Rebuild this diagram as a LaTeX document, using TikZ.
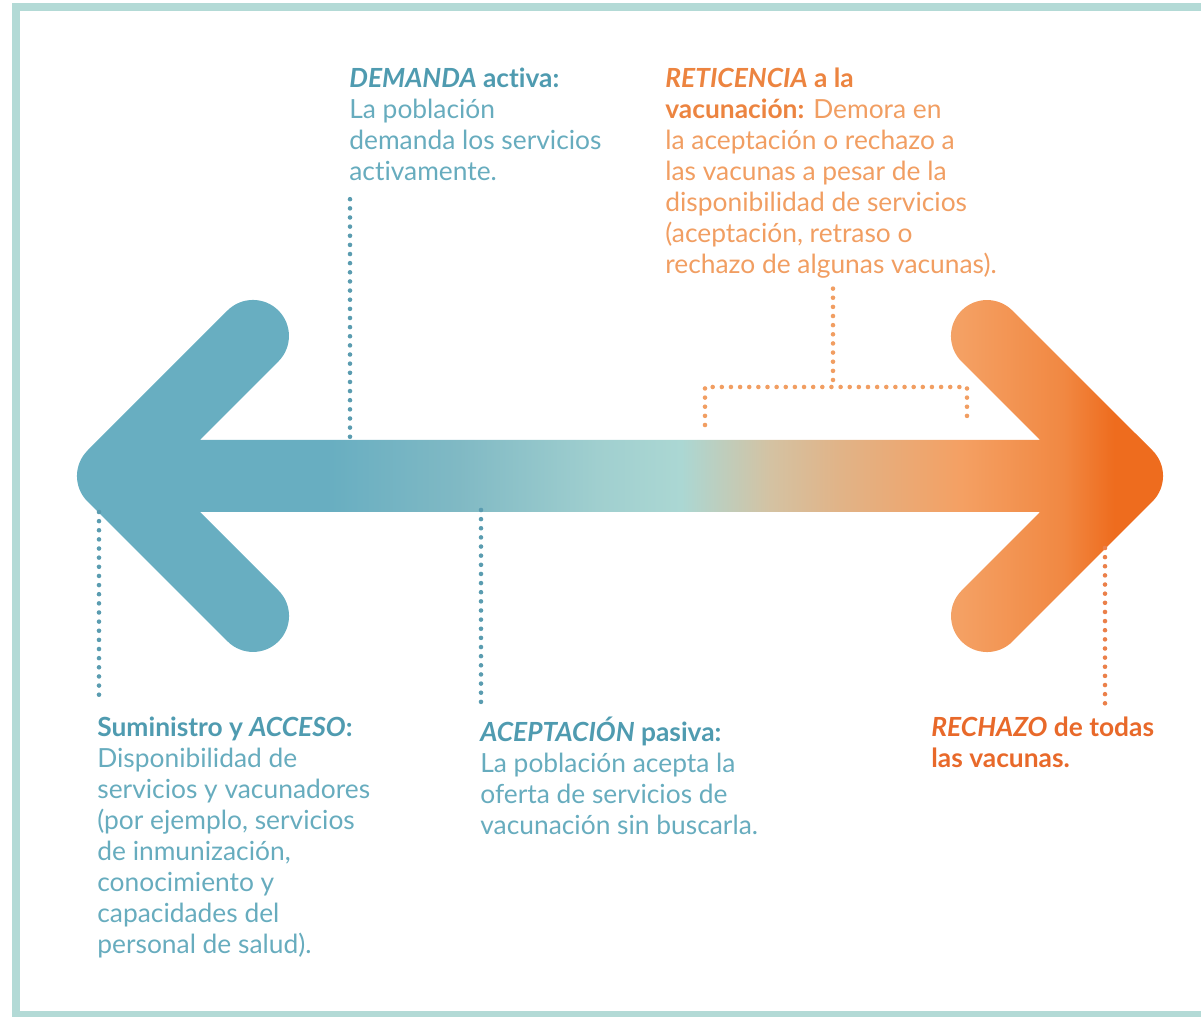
\documentclass[tikz,border=0pt]{standalone}
\usepackage{fontspec}
\setmainfont[Ligatures=NoCommon]{Lato}
\usetikzlibrary{calc}

\definecolor{framecol}{HTML}{B3DAD6}
\definecolor{tealarrow}{HTML}{68AEC1}
\definecolor{tealmid}{HTML}{80B9C4}
\definecolor{tealpale}{HTML}{A0CFCF}
\definecolor{tealpale2}{HTML}{ABD7D3}
\definecolor{tanarrow}{HTML}{D4C2A2}
\definecolor{sandarrow}{HTML}{E1B387}
\definecolor{orangelight}{HTML}{F4A063}
\definecolor{orangemid}{HTML}{F18842}
\definecolor{orangedeep}{HTML}{EE6C1E}
\definecolor{tealhead}{HTML}{4F9BB0}
\definecolor{tealtext}{HTML}{67ACBE}
\definecolor{tealdot}{HTML}{5A9CB0}
\definecolor{orangehead}{HTML}{EC8440}
\definecolor{orangetext}{HTML}{F19E62}
\definecolor{rechazocol}{HTML}{E8692A}

\pgfdeclarehorizontalshading{vacgrad}{100bp}{color(0bp)=(tealarrow); color(36.6bp)=(tealarrow); color(42.6bp)=(tealmid); color(49bp)=(tealpale); color(52.8bp)=(tealpale2); color(56.9bp)=(tanarrow); color(60.1bp)=(sandarrow); color(65.6bp)=(orangelight); color(70.3bp)=(orangemid); color(72.6bp)=(orangedeep); color(100bp)=(orangedeep)}

\begin{document}
\begin{tikzpicture}[x=0.02cm, y=0.02cm,
    label text/.style={anchor=north west, inner sep=0pt, align=left, font=\fontsize{15pt}{17.6pt}\selectfont},
    teal dots/.style={draw=tealdot, line width=2.6pt, line cap=round, dash pattern=on 0pt off 5.2pt},
    orange dots/.style={draw=orangetext, line width=2.6pt, line cap=round, dash pattern=on 0pt off 5.2pt},
    rechazo dots/.style={draw=rechazocol!85, line width=2.6pt, line cap=round, dash pattern=on 0pt off 5.2pt}]
    \useasboundingbox (0,0) rectangle (1201,1017);
    % Frame
    \draw[framecol, line width=0.16cm] (1201,1009.5) -- (16,1009.5) -- (16,2) -- (1201,2);
    % Double arrow with gradient
    \shade[shading=vacgrad] (87.5,566.5) -- (227.5,706.5) arc[start angle=135, end angle=-45, radius=36]
        -- (200,577) -- (1040,577) -- (961.5,655.5) arc[start angle=225, end angle=45, radius=36]
        -- (1152.5,566.5) arc[start angle=45, end angle=-45, radius=36]
        -- (1012.5,375.5) arc[start angle=-45, end angle=-225, radius=36]
        -- (1040,505) -- (200,505) -- (278.5,426.5) arc[start angle=45, end angle=-135, radius=36]
        -- (87.5,515.5) arc[start angle=-135, end angle=-225, radius=36] -- cycle;
    % Feet of the connectors on the arrow
    \coordinate (dmfoot) at (350,579);
    \coordinate (acfoot) at (99,505);
    \coordinate (apfoot) at (481,507);
    \coordinate (rtleft) at (705,592);
    \coordinate (rtright) at (967,592);
    \coordinate (rzfoot) at (1105,469);
    % Texts above
    \node[label text, text=tealtext] (demanda) at (349,949)
        {\textcolor{tealhead}{\textbf{\textit{DEMANDA} activa:}}\\La población\\demanda los servicios\\activamente.};
    \node[label text, text=orangetext] (reticencia) at (665,949)
        {\textcolor{orangehead}{\textbf{\textit{RETICENCIA} a la}}\\\textcolor{orangehead}{\textbf{vacunación:}} Demora en\\la aceptación o rechazo a\\las vacunas a pesar de la\\disponibilidad de servicios\\(aceptación, retraso o\\rechazo de algunas vacunas).};
    % Texts below
    \node[label text, text=tealtext] (acceso) at (97,300)
        {\textcolor{tealhead}{\textbf{Suministro y \textit{ACCESO}:}}\\Disponibilidad de\\servicios y vacunadores\\(por ejemplo, servicios\\de inmunización,\\conocimiento y\\capacidades del\\personal de salud).};
    \node[label text, text=tealtext] (aceptacion) at (480,300)
        {\textcolor{tealhead}{\textbf{\textit{ACEPTACIÓN} pasiva:}}\\La población acepta la\\oferta de servicios de\\vacunación sin buscarla.};
    \node[label text, text=rechazocol] (rechazo) at (931,300)
        {\textbf{\textit{RECHAZO} de todas}\\\textbf{las vacunas.}};
    % Dotted connectors
    \draw[teal dots] ($(dmfoot |- demanda.south)+(0,-18)$) -- (dmfoot);
    \draw[teal dots] (acfoot) -- ($(acfoot |- acceso.north)+(0,15)$);
    \draw[teal dots] (apfoot) -- ($(apfoot |- aceptacion.north)+(0,15)$);
    \draw[orange dots] ($(833,0 |- reticencia.south)+(0,-10)$) -- (833,630);
    \draw[orange dots] (rtleft) -- (rtleft |- 0,630) -- (rtright |- 0,630) -- (rtright);
    \draw[rechazo dots] (rzfoot) -- ($(rzfoot |- rechazo.north)+(0,12)$);
\end{tikzpicture}
\end{document}
